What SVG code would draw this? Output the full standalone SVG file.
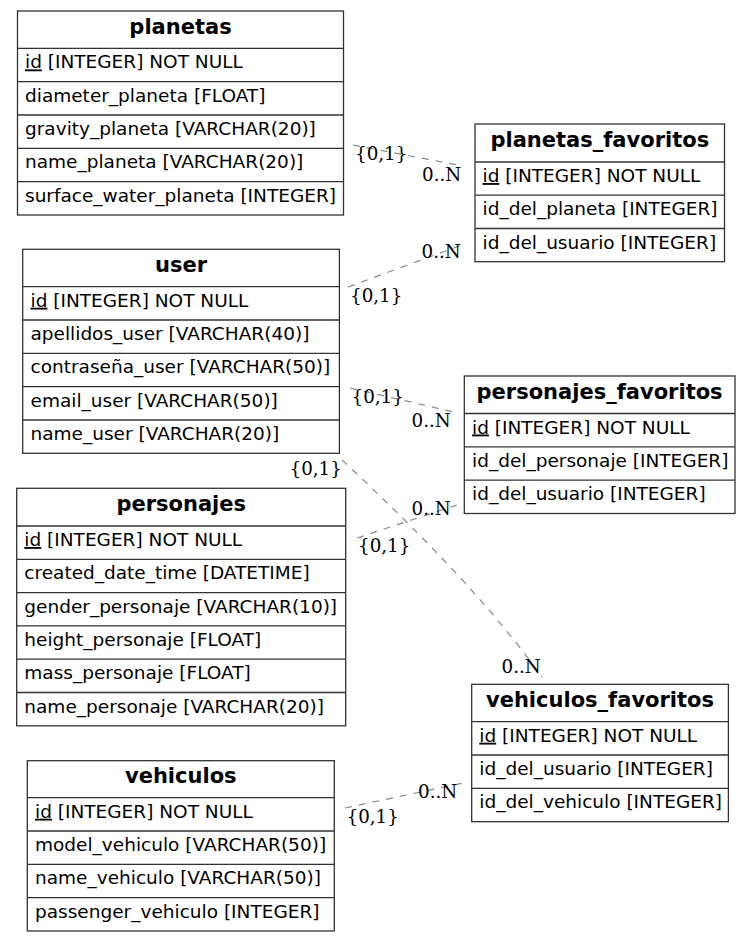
<svg xmlns="http://www.w3.org/2000/svg" width="751" height="942" viewBox="0 0 751 942">
<style>
.box{fill:#fff;stroke:#333;stroke-width:1.3}
.sep{stroke:#333;stroke-width:1.3}
.title{font-family:"DejaVu Sans",sans-serif;font-weight:bold;font-size:21px;text-anchor:middle;fill:#000}
.field{font-family:"DejaVu Sans",sans-serif;font-size:18.5px;fill:#000}
.pk{text-decoration:underline}
.edge{fill:none;stroke:#888;stroke-width:1.2;stroke-dasharray:7,7}
.lbl{font-family:"DejaVu Serif",serif;font-size:18.3px;fill:#000}
</style>
<rect width="751" height="942" fill="#fff"/>
<g id="connectors">
<path class="edge" d="M353,145 L463,166"/>
<path class="edge" d="M348,287 L462,245"/>
<path class="edge" d="M350,388 L458,413"/>
<path class="edge" d="M342,460 C390,505 480,590 542,677"/>
<path class="edge" d="M357,538 L463,503"/>
<path class="edge" d="M345,808 L468,782"/>
<text class="lbl" x="355" y="160">{0,1}</text>
<text class="lbl" x="422" y="181">0..N</text>
<text class="lbl" x="350" y="301.5">{0,1}</text>
<text class="lbl" x="421.5" y="258">0..N</text>
<text class="lbl" x="351.5" y="403">{0,1}</text>
<text class="lbl" x="411.5" y="427">0..N</text>
<text class="lbl" x="289.5" y="474.5">{0,1}</text>
<text class="lbl" x="501.5" y="673">0..N</text>
<text class="lbl" x="358" y="551.5">{0,1}</text>
<text class="lbl" x="411.5" y="515">0..N</text>
<text class="lbl" x="346.5" y="823">{0,1}</text>
<text class="lbl" x="418" y="798">0..N</text>
</g>
<g id="planetas">
<rect class="box" x="17.5" y="11" width="326" height="204"/>
<line class="sep" x1="17.5" y1="48.4" x2="343.5" y2="48.4"/>
<line class="sep" x1="17.5" y1="81.7" x2="343.5" y2="81.7"/>
<line class="sep" x1="17.5" y1="115" x2="343.5" y2="115"/>
<line class="sep" x1="17.5" y1="148.4" x2="343.5" y2="148.4"/>
<line class="sep" x1="17.5" y1="181.7" x2="343.5" y2="181.7"/>
<text class="title" x="180.5" y="33.5">planetas</text>
<text class="field" x="25" y="68.4"><tspan class="pk">id</tspan> [INTEGER] NOT NULL</text>
<text class="field" x="25" y="101.7">diameter_planeta [FLOAT]</text>
<text class="field" x="25" y="135">gravity_planeta [VARCHAR(20)]</text>
<text class="field" x="25" y="168.4">name_planeta [VARCHAR(20)]</text>
<text class="field" x="25" y="201.7">surface_water_planeta [INTEGER]</text>
</g>
<g id="planetas_favoritos">
<rect class="box" x="475" y="124" width="249.5" height="137.7"/>
<line class="sep" x1="475" y1="162" x2="724.5" y2="162"/>
<line class="sep" x1="475" y1="195.2" x2="724.5" y2="195.2"/>
<line class="sep" x1="475" y1="228.5" x2="724.5" y2="228.5"/>
<text class="title" x="599.8" y="146.5">planetas_favoritos</text>
<text class="field" x="482.5" y="182"><tspan class="pk">id</tspan> [INTEGER] NOT NULL</text>
<text class="field" x="482.5" y="215.2">id_del_planeta [INTEGER]</text>
<text class="field" x="482.5" y="248.5">id_del_usuario [INTEGER]</text>
</g>
<g id="user">
<rect class="box" x="22.7" y="249.3" width="316.7" height="204"/>
<line class="sep" x1="22.7" y1="286.7" x2="339.4" y2="286.7"/>
<line class="sep" x1="22.7" y1="320" x2="339.4" y2="320"/>
<line class="sep" x1="22.7" y1="353.3" x2="339.4" y2="353.3"/>
<line class="sep" x1="22.7" y1="386.7" x2="339.4" y2="386.7"/>
<line class="sep" x1="22.7" y1="420" x2="339.4" y2="420"/>
<text class="title" x="181" y="271.8">user</text>
<text class="field" x="30.5" y="306.7"><tspan class="pk">id</tspan> [INTEGER] NOT NULL</text>
<text class="field" x="30.5" y="340">apellidos_user [VARCHAR(40)]</text>
<text class="field" x="30.5" y="373.3">contraseña_user [VARCHAR(50)]</text>
<text class="field" x="30.5" y="406.7">email_user [VARCHAR(50)]</text>
<text class="field" x="30.5" y="440">name_user [VARCHAR(20)]</text>
</g>
<g id="personajes_favoritos">
<rect class="box" x="464.3" y="376" width="270.7" height="137.5"/>
<line class="sep" x1="464.3" y1="413.5" x2="735" y2="413.5"/>
<line class="sep" x1="464.3" y1="446.8" x2="735" y2="446.8"/>
<line class="sep" x1="464.3" y1="480.2" x2="735" y2="480.2"/>
<text class="title" x="599.6" y="398.5">personajes_favoritos</text>
<text class="field" x="472" y="433.5"><tspan class="pk">id</tspan> [INTEGER] NOT NULL</text>
<text class="field" x="472" y="466.8">id_del_personaje [INTEGER]</text>
<text class="field" x="472" y="500.2">id_del_usuario [INTEGER]</text>
</g>
<g id="personajes">
<rect class="box" x="16.7" y="488.3" width="329" height="237.5"/>
<line class="sep" x1="16.7" y1="526" x2="345.7" y2="526"/>
<line class="sep" x1="16.7" y1="559.3" x2="345.7" y2="559.3"/>
<line class="sep" x1="16.7" y1="592.6" x2="345.7" y2="592.6"/>
<line class="sep" x1="16.7" y1="625.9" x2="345.7" y2="625.9"/>
<line class="sep" x1="16.7" y1="659.2" x2="345.7" y2="659.2"/>
<line class="sep" x1="16.7" y1="692.5" x2="345.7" y2="692.5"/>
<text class="title" x="181.2" y="510.8">personajes</text>
<text class="field" x="24.3" y="546"><tspan class="pk">id</tspan> [INTEGER] NOT NULL</text>
<text class="field" x="24.3" y="579.3">created_date_time [DATETIME]</text>
<text class="field" x="24.3" y="612.6">gender_personaje [VARCHAR(10)]</text>
<text class="field" x="24.3" y="645.9">height_personaje [FLOAT]</text>
<text class="field" x="24.3" y="679.2">mass_personaje [FLOAT]</text>
<text class="field" x="24.3" y="712.5">name_personaje [VARCHAR(20)]</text>
</g>
<g id="vehiculos_favoritos">
<rect class="box" x="471.7" y="684.3" width="256.7" height="137.4"/>
<line class="sep" x1="471.7" y1="721.7" x2="728.4" y2="721.7"/>
<line class="sep" x1="471.7" y1="755" x2="728.4" y2="755"/>
<line class="sep" x1="471.7" y1="788.3" x2="728.4" y2="788.3"/>
<text class="title" x="600" y="706.8">vehiculos_favoritos</text>
<text class="field" x="479.3" y="741.7"><tspan class="pk">id</tspan> [INTEGER] NOT NULL</text>
<text class="field" x="479.3" y="775">id_del_usuario [INTEGER]</text>
<text class="field" x="479.3" y="808.3">id_del_vehiculo [INTEGER]</text>
</g>
<g id="vehiculos">
<rect class="box" x="27.3" y="760.7" width="307" height="170.3"/>
<line class="sep" x1="27.3" y1="797.7" x2="334.3" y2="797.7"/>
<line class="sep" x1="27.3" y1="831" x2="334.3" y2="831"/>
<line class="sep" x1="27.3" y1="864.3" x2="334.3" y2="864.3"/>
<line class="sep" x1="27.3" y1="897.7" x2="334.3" y2="897.7"/>
<text class="title" x="180.8" y="783.2">vehiculos</text>
<text class="field" x="35" y="817.7"><tspan class="pk">id</tspan> [INTEGER] NOT NULL</text>
<text class="field" x="35" y="851">model_vehiculo [VARCHAR(50)]</text>
<text class="field" x="35" y="884.3">name_vehiculo [VARCHAR(50)]</text>
<text class="field" x="35" y="917.7">passenger_vehiculo [INTEGER]</text>
</g>
</svg>
